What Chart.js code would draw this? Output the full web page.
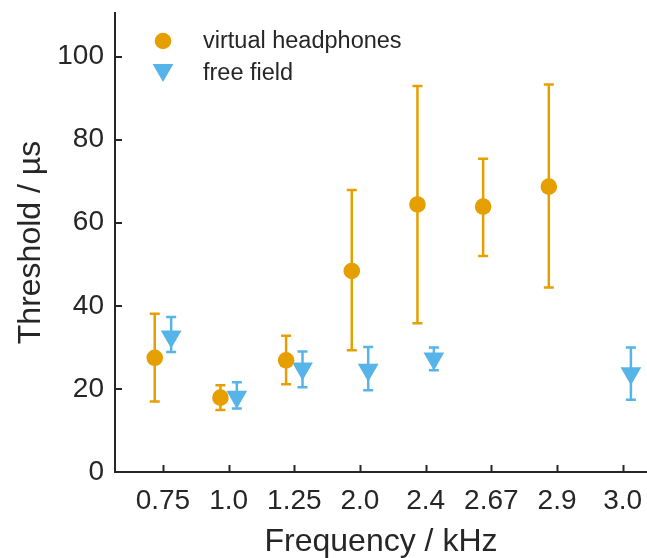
<!DOCTYPE html>
<html>
<head>
<meta charset="utf-8">
<script src="https://cdn.jsdelivr.net/npm/chart.js@4.4.1/dist/chart.umd.min.js"></script>
<style>
  html, body { margin: 0; padding: 0; background: #fff; }
  #wrap { width: 647px; height: 558px; }
</style>
</head>
<body>
<div id="wrap"><canvas id="chart" width="647" height="558"></canvas></div>
<script>
// frequencies (x categories)
var categories = ['0.75', '1.0', '1.25', '2.0', '2.4', '2.67', '2.9', '3.0'];

// virtual headphones: mean and error bar ends (µs)
var headphonesMean = [27.5, 17.9, 26.9, 48.4, 64.4, 63.9, 68.7, null];
var headphonesLow  = [17.0, 14.9, 21.1, 29.3, 35.8, 52.0, 44.4, null];
var headphonesHigh = [38.1, 20.9, 32.8, 67.9, 92.9, 75.4, 93.3, null];

// free field
var freeFieldMean = [32.6, 18.1, 24.9, 24.6, 27.3, null, null, 23.8];
var freeFieldLow  = [28.9, 15.3, 20.4, 19.7, 24.5, null, null, 17.4];
var freeFieldHigh = [37.3, 21.6, 29.0, 30.1, 30.0, null, null, 30.0];

var yTicks = [0, 20, 40, 60, 80, 100];

var ORANGE = '#E69F00';
var BLUE = '#56B4E9';
var INK = '#262626';
var FONT = '"Liberation Sans", Arial, Helvetica, sans-serif';

function points(mean, offset) {
	var out = [];
	for (var i = 0; i < mean.length; i++) {
		if (mean[i] === null) continue;
		out.push({ x: i + offset, y: mean[i], idx: i });
	}
	return out;
}

// vertical error bars with caps, behind the markers
var errorBars = {
	id: 'errorBars',
	beforeDatasetsDraw: function(chart) {
		var ctx = chart.ctx, xs = chart.scales.x, ys = chart.scales.y;
		chart.data.datasets.forEach(function(ds) {
			ctx.save();
			ctx.strokeStyle = ds.borderColor;
			ctx.lineWidth = 2.5;
			ds.data.forEach(function(p) {
				var x = xs.getPixelForValue(p.x);
				var top = ys.getPixelForValue(ds.errHigh[p.idx]);
				var bot = ys.getPixelForValue(ds.errLow[p.idx]);
				ctx.beginPath();
				ctx.moveTo(x, top); ctx.lineTo(x, bot);
				ctx.moveTo(x - 5, top); ctx.lineTo(x + 5, top);
				ctx.moveTo(x - 5, bot); ctx.lineTo(x + 5, bot);
				ctx.stroke();
			});
			ctx.restore();
		});
	}
};

// matlab style ticks pointing into the plot, plus the legend
var axisDecor = {
	id: 'axisDecor',
	afterDraw: function(chart) {
		var ctx = chart.ctx, xs = chart.scales.x, ys = chart.scales.y, a = chart.chartArea;
		ctx.save();
		ctx.strokeStyle = INK;
		ctx.lineWidth = 2;
		ctx.beginPath();
		xs.ticks.forEach(function(t) {
			var px = Math.round(xs.getPixelForValue(t.value)) + 0.5;
			ctx.moveTo(px, a.bottom); ctx.lineTo(px, a.bottom - 7);
		});
		ys.ticks.forEach(function(t) {
			var py = Math.round(ys.getPixelForValue(t.value));
			ctx.moveTo(a.left, py); ctx.lineTo(a.left + 7, py);
		});
		ctx.stroke();

		// legend
		var lx = a.left + 48, ly = 41, gap = 32;
		chart.data.datasets.forEach(function(ds, i) {
			var y = ly + i * gap;
			ctx.fillStyle = ds.backgroundColor;
			ctx.strokeStyle = ds.borderColor;
			Chart.helpers.drawPoint(ctx, {
				pointStyle: ds.pointStyle,
				radius: ds.pointRadius,
				rotation: ds.rotation || 0,
				borderWidth: 0
			}, lx, y + (ds.pointStyle === 'triangle' ? -3 : 0));
			ctx.fillStyle = INK;
			ctx.font = '23.5px ' + FONT;
			ctx.textBaseline = 'middle';
			ctx.textAlign = 'left';
			ctx.fillText(ds.label, a.left + 88, y + 1);
		});
		ctx.restore();
	}
};

new Chart(document.getElementById('chart'), {
	type: 'scatter',
	data: {
		datasets: [{
			label: 'virtual headphones',
			data: points(headphonesMean, -0.125),
			errLow: headphonesLow,
			errHigh: headphonesHigh,
			backgroundColor: ORANGE,
			borderColor: ORANGE,
			pointStyle: 'circle',
			pointRadius: 8.3,
			pointBorderWidth: 0
		}, {
			label: 'free field',
			data: points(freeFieldMean, 0.125),
			errLow: freeFieldLow,
			errHigh: freeFieldHigh,
			backgroundColor: BLUE,
			borderColor: BLUE,
			pointStyle: 'triangle',
			rotation: 180,
			pointRadius: 12,
			pointBorderWidth: 0
		}]
	},
	options: {
		responsive: false,
		animation: false,
		devicePixelRatio: 1,
		layout: {
			autoPadding: false,
			padding: { top: 13, left: 0, right: 0, bottom: 0 }
		},
		plugins: {
			legend: { display: false },
			tooltip: { enabled: false }
		},
		scales: {
			x: {
				type: 'linear',
				min: -0.73,
				max: 7.37,
				afterBuildTicks: function(s) {
					s.ticks = categories.map(function(c, i) { return { value: i }; });
				},
				afterFit: function(s) {
					s.height = 86;
					s.paddingLeft = 0;
					s.paddingRight = 0;
				},
				grid: { display: false, drawTicks: true, tickLength: 12 },
				border: { display: true, color: INK, width: 2 },
				ticks: {
					padding: 0,
					autoSkip: false,
					maxRotation: 0,
					color: INK,
					font: { family: FONT, size: 28 },
					callback: function(v) { return categories[Math.round(v)]; }
				},
				title: {
					display: true,
					text: 'Frequency / kHz',
					color: INK,
					font: { family: FONT, size: 32, lineHeight: 1 },
					padding: { top: 0, bottom: 0 }
				}
			},
			y: {
				min: 0,
				max: 110.5,
				afterBuildTicks: function(s) {
					s.ticks = yTicks.map(function(v) { return { value: v }; });
				},
				afterFit: function(s) {
					s.width = 115;
					s.paddingTop = 0;
				},
				grid: { display: false, drawTicks: true, tickLength: 11 },
				border: { display: true, color: INK, width: 2 },
				ticks: {
					padding: 0,
					color: INK,
					font: { family: FONT, size: 28 }
				},
				title: {
					display: true,
					text: 'Threshold / µs',
					color: INK,
					font: { family: FONT, size: 32, lineHeight: 1.2 },
					padding: { top: 12, bottom: 0 }
				}
			}
		}
	},
	plugins: [errorBars, axisDecor]
});
</script>
</body>
</html>
